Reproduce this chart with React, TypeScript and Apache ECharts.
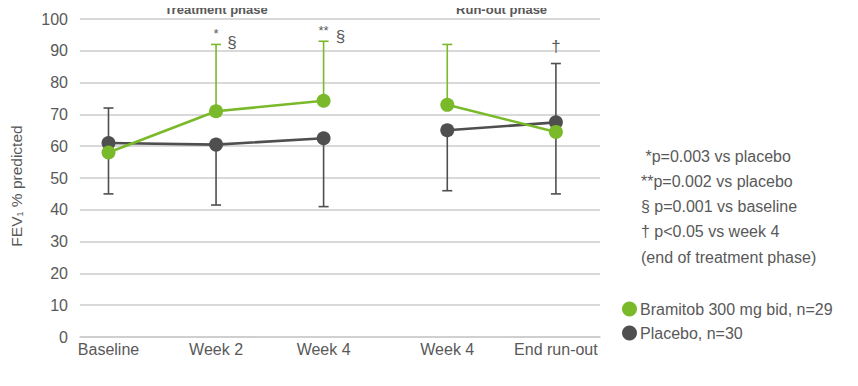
import React, { useEffect, useRef } from "react";
import * as echarts from "echarts";

const categories = ["Baseline", "Week 2", "Week 4", "Week 4", "End run-out"];
const categoryPositions = [0, 1, 2, 3.15, 4.16];
const treatmentIdx = [0, 1, 2];
const runoutIdx = [3, 4];

const bramitobName = "Bramitob 300 mg bid, n=29";
const placeboName = "Placebo, n=30";

const bramitobMean = [58, 71, 74.3, 73, 64.5];
const bramitobUpper: (number | null)[] = [null, 92, 93, 92, null];
const bramitobLower: (number | null)[] = [null, null, null, null, null];

const placeboMean = [61, 60.5, 62.5, 65, 67.5];
const placeboUpper: (number | null)[] = [72, null, null, null, 86];
const placeboLower: (number | null)[] = [45, 41.5, 41, 46, 45];

const yTicks = [0, 100, 10];

const notes = [
  " *p=0.003 vs placebo",
  "**p=0.002 vs placebo",
  "§ p=0.001 vs baseline",
  "† p<0.05 vs week 4",
  "(end of treatment phase)",
];

// annotations: [category index, value, text, x offset]
const annotations: [number, number, string, number][] = [
  [1, 95.5, "*", 0],
  [1, 92.5, "§", 16],
  [2, 96.5, "**", 0],
  [2, 94.5, "§", 17],
  [4, 91.5, "†", 0],
];

const GREEN = "#7ab929";
const GRAY = "#4f4f4f";
const TEXT = "#595959";
const FONT = "Arial, 'Liberation Sans', sans-serif";

function pts(vals: number[], idx: number[]) {
  return idx.map((i) => [categoryPositions[i], vals[i]]);
}

function errData(mean: number[], upper: (number | null)[], lower: (number | null)[]) {
  const out: number[][] = [];
  mean.forEach((m, i) => {
    if (upper[i] != null) out.push([categoryPositions[i], m, upper[i] as number]);
    if (lower[i] != null) out.push([categoryPositions[i], m, lower[i] as number]);
  });
  return out;
}

function errSeries(name: string, data: number[][], color: string, z: number) {
  return {
    type: "custom",
    name,
    z,
    silent: true,
    data,
    itemStyle: { color },
    encode: { x: 0, y: [1, 2] },
    renderItem: (params: any, api: any) => {
      const x = api.value(0);
      const p0 = api.coord([x, api.value(1)]);
      const p1 = api.coord([x, api.value(2)]);
      const half = 5;
      return {
        type: "group",
        children: [
          {
            type: "line",
            shape: { x1: p0[0], y1: p0[1], x2: p1[0], y2: p1[1] },
            style: { stroke: color, lineWidth: 1.6 },
          },
          {
            type: "line",
            shape: { x1: p1[0] - half, y1: p1[1], x2: p1[0] + half, y2: p1[1] },
            style: { stroke: color, lineWidth: 1.6 },
          },
        ],
      };
    },
  };
}

function lineSeries(name: string, data: number[][], color: string, z: number) {
  return {
    type: "line",
    name,
    z,
    data,
    symbol: "circle",
    symbolSize: 14,
    lineStyle: { color, width: 2.6 },
    itemStyle: { color },
  };
}

export default function App() {
  const ref = useRef<HTMLDivElement>(null);
  useEffect(() => {
    if (!ref.current) return;
    const chart = echarts.init(ref.current, undefined, { renderer: "svg" });
    chart.setOption({
      animation: false,
      textStyle: { fontFamily: FONT },
      grid: { left: 80, right: 258, top: 19, bottom: 49, containLabel: false },
      xAxis: {
        type: "value",
        min: -0.265,
        max: 4.57,
        splitLine: { show: false },
        axisTick: { show: false },
        axisLine: { show: true, lineStyle: { color: "#cccccc", width: 1.5 } },
        axisLabel: {
          customValues: categoryPositions,
          formatter: (v: number) => {
            const i = categoryPositions.findIndex((p) => Math.abs(p - v) < 1e-6);
            return i >= 0 ? categories[i] : "";
          },
          color: TEXT,
          fontSize: 16,
          margin: 4,
          fontFamily: FONT,
        },
      },
      yAxis: {
        type: "value",
        min: yTicks[0],
        max: yTicks[1],
        interval: yTicks[2],
        axisLine: { show: false },
        axisTick: { show: false },
        splitLine: { lineStyle: { color: "#cccccc", width: 1.5 } },
        axisLabel: { color: TEXT, fontSize: 16, margin: 12, fontFamily: FONT },
      },
      legend: {
        orient: "vertical",
        left: 617,
        top: 296,
        data: [
          { name: bramitobName, itemStyle: { color: GREEN } },
          { name: placeboName, itemStyle: { color: GRAY } },
        ],
        icon: "circle",
        itemWidth: 15,
        itemHeight: 15,
        itemGap: 8,
        textStyle: { color: TEXT, fontSize: 16, fontFamily: FONT, padding: [0, 0, 0, -2] },
      },
      series: [
        errSeries(placeboName, errData(placeboMean, placeboUpper, placeboLower), GRAY, 1),
        lineSeries(placeboName, pts(placeboMean, treatmentIdx), GRAY, 2),
        lineSeries(placeboName, pts(placeboMean, runoutIdx), GRAY, 2),
        errSeries(bramitobName, errData(bramitobMean, bramitobUpper, bramitobLower), GREEN, 3),
        lineSeries(bramitobName, pts(bramitobMean, treatmentIdx), GREEN, 4),
        lineSeries(bramitobName, pts(bramitobMean, runoutIdx), GREEN, 4),
      ],
    });

    const px = (x: number, y: number) => chart.convertToPixel({ gridIndex: 0 }, [x, y]) as number[];
    const treatCenter = px(categoryPositions[1], 100)[0];
    const runCenter = (px(categoryPositions[3], 100)[0] + px(categoryPositions[4], 100)[0]) / 2;

    const headerStyle = {
      fontSize: 13,
      fontWeight: "bold",
      fontFamily: FONT,
      fill: TEXT,
      align: "center",
      verticalAlign: "top",
    };
    const graphics: any[] = [
      { type: "text", x: treatCenter, y: 3, style: { ...headerStyle, text: "Treatment phase" } },
      { type: "text", x: runCenter, y: 3, style: { ...headerStyle, text: "Run-out phase" } },
      {
        type: "text",
        x: 16,
        y: 186,
        rotation: Math.PI / 2,
        style: {
          text: "{a|FEV}{s|1}{a| % predicted}",
          align: "center",
          verticalAlign: "middle",
          rich: {
            a: { fontSize: 15.5, fontFamily: FONT, fill: TEXT, color: TEXT },
            s: { fontSize: 9, fontFamily: FONT, fill: TEXT, color: TEXT, padding: [8, 0, 0, 0] },
          },
        },
      },
    ];
    annotations.forEach(([i, v, t, dx]) => {
      const p = px(categoryPositions[i], v);
      const isStar = t.indexOf("*") >= 0;
      graphics.push({
        type: "text",
        x: p[0] + dx,
        y: p[1],
        style: {
          text: t,
          fontSize: isStar ? 13 : 17,
          fontFamily: FONT,
          fill: TEXT,
          align: "center",
          verticalAlign: "middle",
        },
      });
    });
    notes.forEach((n, k) => {
      graphics.push({
        type: "text",
        x: 641,
        y: 156 + k * 25.3,
        style: { text: n, fontSize: 16, fontFamily: FONT, fill: TEXT, align: "left", verticalAlign: "middle" },
      });
    });
    chart.setOption({ graphic: graphics });

    return () => chart.dispose();
  }, []);
  return <div ref={ref} style={{ width: 858, height: 386, margin: -8 }} />;
}
